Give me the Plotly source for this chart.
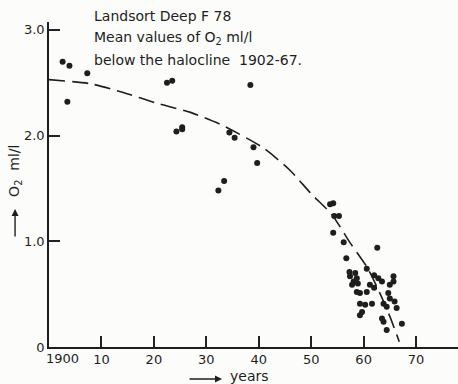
import plotly.graph_objects as go

# ---- data ----
years = [1902.6, 1903.9, 1903.5, 1907.3, 1922.5, 1923.5, 1924.3, 1925.4, 1925.4,
         1938.4, 1934.4, 1935.4, 1939.0, 1939.7, 1933.4, 1932.3,
         1953.6, 1954.2, 1954.4, 1955.3, 1954.2, 1956.2, 1962.6, 1956.7,
         1960.6, 1958.4, 1958.7, 1957.4, 1958.1, 1962.0, 1962.8, 1963.5,
         1965.7, 1965.7, 1965.0, 1957.8, 1961.2, 1962.0, 1958.7, 1959.3,
         1960.6, 1964.7, 1965.0, 1965.9, 1959.3, 1960.3, 1961.6, 1963.8,
         1964.4, 1966.3, 1959.7, 1959.3, 1963.5, 1963.8, 1967.3, 1964.4,
         1957.3, 1958.9]
o2 = [2.70, 2.66, 2.32, 2.59, 2.50, 2.52, 2.04, 2.08, 2.06,
      2.48, 2.03, 1.98, 1.89, 1.74, 1.57, 1.48,
      1.35, 1.36, 1.24, 1.24, 1.08, 0.99, 0.94, 0.84,
      0.74, 0.70, 0.65, 0.67, 0.62, 0.68, 0.65, 0.62,
      0.67, 0.62, 0.59, 0.59, 0.59, 0.56, 0.52, 0.51,
      0.52, 0.51, 0.46, 0.43, 0.41, 0.40, 0.41, 0.41,
      0.38, 0.37, 0.33, 0.30, 0.27, 0.24, 0.22, 0.16,
      0.71, 0.60]

trend_years = [1900, 1908, 1914, 1921, 1927, 1933, 1941, 1946, 1950, 1954,
               1957.5, 1960.6, 1963, 1965, 1966.8]
trend_o2 = [2.53, 2.49, 2.41, 2.30, 2.22, 2.10, 1.88, 1.67, 1.45, 1.25,
            0.98, 0.76, 0.52, 0.29, 0.05]

x_tickvals = [1910, 1920, 1930, 1940, 1950, 1960, 1970]
x_ticktext = ["10", "20", "30", "40", "50", "60", "70"]
first_year_label = "1900"
y_tickvals = [0, 1, 2, 3]
y_ticktext = ["0", "1.0", "2.0", "3.0"]

title_lines = ["Landsort Deep F 78",
               "Mean values of O<sub>2</sub> ml/l",
               "below the halocline  1902-67."]

INK = "#1e1e1e"
FONT = "DejaVu Sans"
W, H = 458, 384
ML, MR, MT, MB = 49, 0, 22, 37
X_RANGE = [1900, 1978]
Y_RANGE = [0, 3.075]

fig = go.Figure()

fig.add_trace(go.Scatter(
    x=trend_years, y=trend_o2, mode="lines",
    line=dict(color=INK, width=1.6, dash="16px,7px", shape="spline", smoothing=0.6),
    hoverinfo="skip", showlegend=False))
fig.add_trace(go.Scatter(
    x=years, y=o2, mode="markers",
    marker=dict(color=INK, size=6, line=dict(width=0)),
    showlegend=False))

# arrowhead at end of trend line
fig.add_annotation(x=trend_years[-1] + 0.2, y=trend_o2[-1] - 0.04,
                   ax=trend_years[-2], ay=trend_o2[-2],
                   xref="x", yref="y", axref="x", ayref="y",
                   showarrow=True, arrowhead=2, arrowsize=1, arrowwidth=1.4,
                   arrowcolor=INK, text=" ", standoff=0, startstandoff=28)

ys = [1.018, 0.951, 0.883]
for line, yy in zip(title_lines, ys):
    fig.add_annotation(text=line, x=0.105, y=yy, xref="paper", yref="paper",
                       xanchor="left", yanchor="middle", showarrow=False,
                       font=dict(family=FONT, size=14, color=INK))

fig.add_annotation(text=first_year_label, x=1902.6, y=-0.034, xref="x", yref="paper",
                   xanchor="center", yanchor="middle", showarrow=False,
                   font=dict(family=FONT, size=13, color=INK))

# y-axis title with arrow
fig.add_annotation(text="O<sub>2</sub>  ml/l", x=-0.083, y=0.542,
                   xref="paper", yref="paper", textangle=-90, showarrow=False,
                   xanchor="center", yanchor="middle",
                   font=dict(family=FONT, size=14, color=INK))
fig.add_annotation(text=" ", x=-0.083, y=0.425, xref="paper", yref="paper",
                   ax=0, ay=36, showarrow=True, arrowhead=2, arrowsize=1,
                   arrowwidth=1.4, arrowcolor=INK, standoff=0)
# x-axis title with arrow
fig.add_annotation(text="years", x=0.489, y=-0.090,
                   xref="paper", yref="paper", showarrow=False,
                   xanchor="center", yanchor="middle",
                   font=dict(family=FONT, size=14, color=INK))
fig.add_annotation(text=" ", x=0.423, y=-0.0985, xref="paper", yref="paper",
                   ax=-36, ay=0, showarrow=True, arrowhead=2, arrowsize=1,
                   arrowwidth=1.4, arrowcolor=INK, standoff=0)

axis_common = dict(tickmode="array", ticks="inside", ticklen=11, tickwidth=2,
                   tickcolor="#222222", showline=True, linecolor=INK,
                   linewidth=1.5, showgrid=False, zeroline=False,
                   tickfont=dict(size=13, family=FONT, color=INK))

fig.update_layout(
    width=W, height=H,
    margin=dict(l=ML, r=MR, t=MT, b=MB),
    paper_bgcolor="#fcfcfa", plot_bgcolor="#fcfcfa",
    font=dict(family=FONT, color=INK, size=12),
    xaxis=dict(range=X_RANGE, tickvals=x_tickvals, ticktext=x_ticktext,
               **axis_common),
    yaxis=dict(range=Y_RANGE, tickvals=y_tickvals, ticktext=y_ticktext,
               **axis_common),
)

fig.write_html("out.html")
